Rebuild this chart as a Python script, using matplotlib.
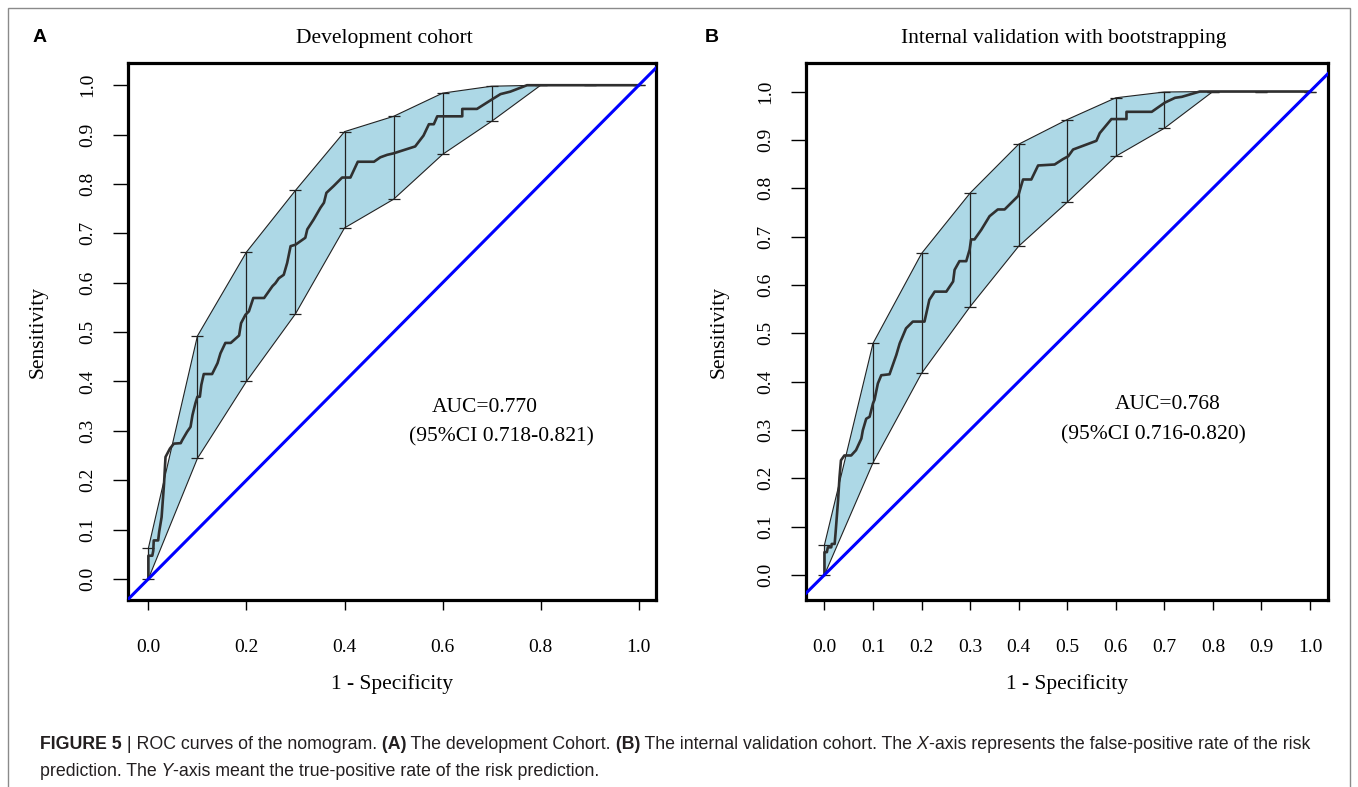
import matplotlib
matplotlib.use("Agg")
import matplotlib.pyplot as plt
from matplotlib.patches import Rectangle

# ROC curve, development cohort (panel A)
fpr_a = [0, 0, .008, .010, .011, .020, .022, .027, .030, .032,
         .034, .035, .044, .052, .066, .069, .079, .086, .090, .096,
         .100, .105, .108, .113, .130, .141, .147, .157, .168, .185,
         .189, .198, .205, .214, .236, .253, .259, .266, .276, .283,
         .290, .300, .320, .324, .337, .351, .358, .363, .378, .395,
         .412, .427, .460, .473, .487, .500, .544, .561, .572, .582,
         .589, .640, .640, .670, .697, .718, .738, .772, 1.0]
tpr_a = [0, .047, .047, .057, .078, .078, .095, .125, .166, .193,
         .230, .247, .264, .274, .275, .281, .298, .308, .332, .356,
         .369, .369, .393, .415, .415, .437, .457, .478, .478, .493,
         .518, .535, .542, .569, .569, .593, .599, .609, .616, .640,
         .674, .677, .691, .708, .728, .752, .762, .782, .796, .813,
         .813, .845, .845, .854, .859, .862, .876, .898, .921, .921,
         .937, .937, .952, .952, .969, .982, .987, 1.0, 1.0]

# ROC curve, internal validation (panel B)
fpr_b = [0, 0, .005, .007, .014, .015, .021, .023, .028, .031,
         .034, .041, .055, .065, .076, .079, .086, .093, .100, .103,
         .110, .117, .134, .148, .155, .168, .182, .206, .216, .227,
         .251, .265, .268, .278, .292, .299, .302, .309, .323, .340,
         .357, .371, .399, .406, .409, .426, .440, .474, .491, .502,
         .512, .560, .567, .591, .622, .622, .674, .701, .722, .736,
         .773, 1.0]
tpr_b = [0, .047, .047, .057, .057, .064, .064, .088, .154, .202,
         .237, .247, .247, .258, .282, .299, .323, .327, .355, .362,
         .396, .413, .415, .455, .479, .510, .524, .524, .569, .586,
         .586, .607, .631, .649, .649, .673, .694, .694, .714, .742,
         .756, .756, .784, .808, .818, .818, .847, .849, .860, .866,
         .880, .898, .914, .943, .943, .958, .958, .977, .987, .989,
         1.0, 1.0]

# bootstrap confidence band
ci_x = [0, .1, .2, .3, .4, .5, .6, .7, .8, .9, 1.0]
ci_hi_a = [.062, .492, .662, .787, .906, .937, .984, .998, 1, 1, 1]
ci_lo_a = [0, .244, .400, .537, .711, .769, .860, .927, 1, 1, 1]
ci_hi_b = [.062, .479, .665, .790, .891, .942, .987, .999, 1, 1, 1]
ci_lo_b = [0, .232, .417, .555, .680, .771, .866, .924, 1, 1, 1]

titles = ["Development cohort", "Internal validation with bootstrapping"]
auc_text = [("AUC=0.770", "(95%CI 0.718-0.821)"), ("AUC=0.768", "(95%CI 0.716-0.820)")]

W, H = 1358, 787
fig = plt.figure(figsize=(W / 100, H / 100), dpi=100)
SERIF = ["Liberation Serif", "DejaVu Serif"]


def px_rect(l, t, r, b):
    return [l / W, 1 - b / H, (r - l) / W, (b - t) / H]


def roc_panel(rect, xlim, ylim, fpr, tpr, lo, hi, xticks, auc, auc_pos):
    ax = fig.add_axes(rect)
    ax.fill_between(ci_x, lo, hi, facecolor="#add8e6", edgecolor="none", zorder=1)
    ax.plot(ci_x, hi, color="#222222", lw=0.8, zorder=2)
    ax.plot(ci_x, lo, color="#222222", lw=0.8, zorder=2)
    ax.errorbar(ci_x, [(h + l) / 2 for h, l in zip(hi, lo)],
                yerr=[[(h - l) / 2 for h, l in zip(hi, lo)]] * 2,
                fmt="none", ecolor="#222222", elinewidth=0.9, capsize=4, capthick=0.9, zorder=3)
    ax.plot(fpr, tpr, color="#303030", lw=1.9, zorder=4)
    ax.plot([-0.1, 1.1], [-0.1, 1.1], color="#0000ff", lw=2.2, zorder=5)
    ax.set_xlim(*xlim)
    ax.set_ylim(*ylim)
    ax.set_xticks(xticks)
    ax.set_xticklabels([f"{v:.1f}" for v in xticks], family=SERIF, fontsize=14)
    yt = [i / 10 for i in range(11)]
    ax.set_yticks(yt)
    ax.set_yticklabels([f"{v:.1f}" for v in yt], family=SERIF, fontsize=14,
                       rotation=90, va="center")
    ax.tick_params(axis="x", length=7, width=1, pad=21)
    ax.tick_params(axis="y", length=11, width=1, pad=12)
    for s in ax.spines.values():
        s.set_linewidth(2.3)
    ax.set_xlabel("1 - Specificity", family=SERIF, fontsize=15.5, labelpad=13)
    ax.set_ylabel("Sensitivity", family=SERIF, fontsize=15.5)
    ax.text(auc_pos[0][0], auc_pos[0][1], auc[0], family=SERIF, fontsize=15.5,
            ha="center", va="center")
    ax.text(auc_pos[1][0], auc_pos[1][1], auc[1], family=SERIF, fontsize=15.5,
            ha="center", va="center")
    return ax


ax_a = roc_panel(px_rect(128, 63, 656, 600), (-0.0415, 1.035), (-0.0427, 1.045),
                 fpr_a, tpr_a, ci_lo_a, ci_hi_a, [0, .2, .4, .6, .8, 1.0],
                 auc_text[0], [(.686, .348), (.720, .287)])
ax_b = roc_panel(px_rect(806, 63, 1328, 600), (-0.038, 1.037), (-0.052, 1.059),
                 fpr_b, tpr_b, ci_lo_b, ci_hi_b, [i / 10 for i in range(11)],
                 auc_text[1], [(.707, .353), (.678, .289)])
ax_a.yaxis.set_label_coords(-0.153, 0.5)
ax_b.yaxis.set_label_coords(-0.149, 0.5)

# panel letters and titles
fig.text(40 / W, 1 - 37 / H, "A", fontsize=14, fontweight="bold",
         family="Liberation Sans", ha="center", va="center")
fig.text(712 / W, 1 - 37 / H, "B", fontsize=14, fontweight="bold",
         family="Liberation Sans", ha="center", va="center")
fig.text(384 / W, 1 - 38 / H, titles[0], family=SERIF, fontsize=15.5, ha="center", va="center")
fig.text(1064 / W, 1 - 38 / H, titles[1], family=SERIF, fontsize=15.5, ha="center", va="center")

# outer frame
fig.add_artist(Rectangle((8 / W, -0.01), (1350 - 8) / W, 1 - 8 / H + 0.01,
                         transform=fig.transFigure, fill=False, edgecolor="#8a8a8a", lw=1))

# caption with mixed styles
STYLE = {"r": {}, "b": {"fontweight": "bold"}, "i": {"fontstyle": "italic"}}
CAP_SIZE = 12.8


def caption_line(x_px, base_px, parts):
    s, k = parts[0]
    t = fig.text(x_px / W, base_px / H, s, fontsize=CAP_SIZE, family="Liberation Sans",
                 color="#231f20", va="baseline", ha="left", **STYLE[k])
    for s, k in parts[1:]:
        t = ax_b.annotate(s, xy=(1, base_px), xycoords=(t, "figure pixels"),
                          fontsize=CAP_SIZE, family="Liberation Sans", color="#231f20",
                          va="baseline", ha="left", annotation_clip=False, **STYLE[k])


caption_line(40, 38, [("FIGURE 5", "b"), (" | ROC curves of the nomogram.", "r"), (" (A)", "b"),
                      (" The development Cohort.", "r"), (" (B)", "b"),
                      (" The internal validation cohort. The", "r"), (" X", "i"),
                      ("-axis represents the false-positive rate of the risk", "r")])
caption_line(40, 11, [("prediction. The", "r"), (" Y", "i"),
                      ("-axis meant the true-positive rate of the risk prediction.", "r")])

fig.savefig("out.png", dpi=100)
